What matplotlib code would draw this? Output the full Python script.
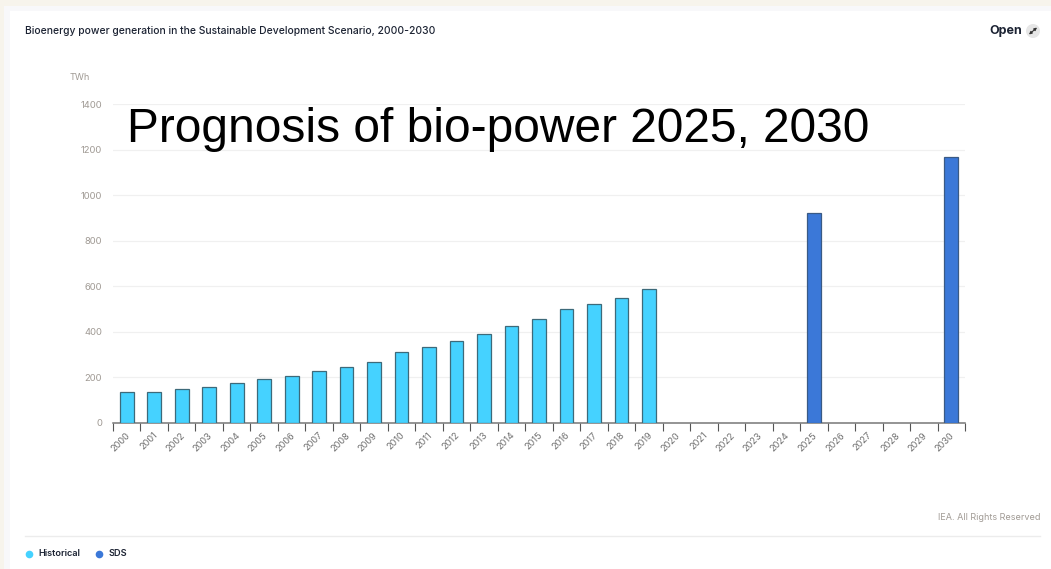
import matplotlib
matplotlib.use('Agg')
import matplotlib.pyplot as plt
from matplotlib.patches import Rectangle, Circle
import numpy as np

plt.rcParams['font.family'] = ['Inter', 'DejaVu Sans']

W = 1051
H = 569

years = list(range(2000, 2031))
hist_years = list(range(2000, 2020))
hist_vals = [135, 135, 148, 158, 175, 195, 208, 227, 245, 268,
             312, 332, 358, 390, 425, 457, 500, 522, 548, 590]
sds_years = [2025, 2030]
sds_vals = [922, 1168]
y_ticks = [0, 200, 400, 600, 800, 1000, 1200, 1400]

cream = '#f7f4ec'
hist_col = '#45d2ff'
sds_col = '#3b78d8'
grey_text = '#a09a94'
dark_text = '#1c2333'

fig = plt.figure(figsize=(W / 100, H / 100), dpi=100, facecolor=cream)

# page background in pixel coordinates, y going down
bg = fig.add_axes([0, 0, 1, 1])
bg.set_xlim(0, W)
bg.set_ylim(H, 0)
bg.axis('off')
bg.add_patch(Rectangle((4, 6), W, H, fc='#f8f8fa', ec='none'))
bg.add_patch(Rectangle((10, 11), W, H, fc='white', ec='none'))
bg.plot([25, 1040], [535.5, 535.5], color='#ececec', lw=1)

# chart area, placed from the pixel positions of the axis
left, right, top, bottom = 113, 965, 104, 423
ax = fig.add_axes([left / W, 1 - bottom / H, (right - left) / W, (bottom - top) / H])
ax.patch.set_alpha(0)
ax.bar(hist_years, hist_vals, width=0.5, color=hist_col, edgecolor='#3d6a7a', lw=0.9, zorder=3)
ax.bar(sds_years, sds_vals, width=0.5, color=sds_col, edgecolor='#3a5a85', lw=0.9, zorder=3)
ax.set_xlim(1999.5, 2030.5)
ax.set_ylim(0, 1400)
ax.set_yticks(y_ticks)
ax.grid(axis='y', color='#f0f0f0', lw=0.9, zorder=0)
ax.set_axisbelow(True)
for s in ['top', 'right', 'left']:
    ax.spines[s].set_visible(False)
ax.spines['bottom'].set_color('#777777')
ax.spines['bottom'].set_linewidth(1.1)
ax.tick_params(axis='y', length=0, pad=8, labelsize=6.8, labelcolor=grey_text)
ax.set_xticks(np.arange(1999.5, 2031.5), labels=[])
ax.tick_params(axis='x', length=5.5, width=0.8, color='#555555')
for y in years:
    ax.annotate(str(y), (y, 0), xytext=(-1, -5.5), textcoords='offset points',
                rotation=45, ha='right', va='top', rotation_mode='anchor',
                fontsize=6.6, color='#6f6f6f')

bg.text(25, 30.5, 'Bioenergy power generation in the Sustainable Development Scenario, 2000-2030',
        fontsize=7.45, color=dark_text, va='center', fontweight='medium')
bg.text(1022, 31, 'Open', fontsize=9, color=dark_text, va='center', ha='right', fontweight='bold')
bg.add_patch(Circle((1033, 31), 7, fc='#e6e6e6', ec='none'))
# no installed font has the expand symbol, so it is drawn as a double arrow
bg.annotate('', xy=(1037, 27.5), xytext=(1029, 34.5),
            arrowprops=dict(arrowstyle='<|-|>', color='#333333', lw=0.8, mutation_scale=4,
                            shrinkA=0, shrinkB=0))
bg.text(70, 77.5, 'TWh', fontsize=6.6, color=grey_text, va='center')
bg.text(1040, 517, 'IEA. All Rights Reserved', fontsize=6.5, color=grey_text, ha='right', va='center')

# big title pasted over the chart
fig.text(127 / W, 1 - 130 / H, 'Prognosis of bio-power 2025, 2030', fontsize=34.5, color='black',
         va='center', family=['Liberation Sans'], zorder=10)

# legend
bg.plot([29], [554], 'o', color=hist_col, ms=5.5, mec='none')
bg.text(38.5, 554, 'Historical', fontsize=6.6, color=dark_text, va='center', fontweight='semibold')
bg.plot([98.5], [554], 'o', color=sds_col, ms=5.5, mec='none')
bg.text(108.5, 554, 'SDS', fontsize=6.6, color=dark_text, va='center', fontweight='semibold')

fig.savefig('out.png', dpi=100, facecolor=fig.get_facecolor())
